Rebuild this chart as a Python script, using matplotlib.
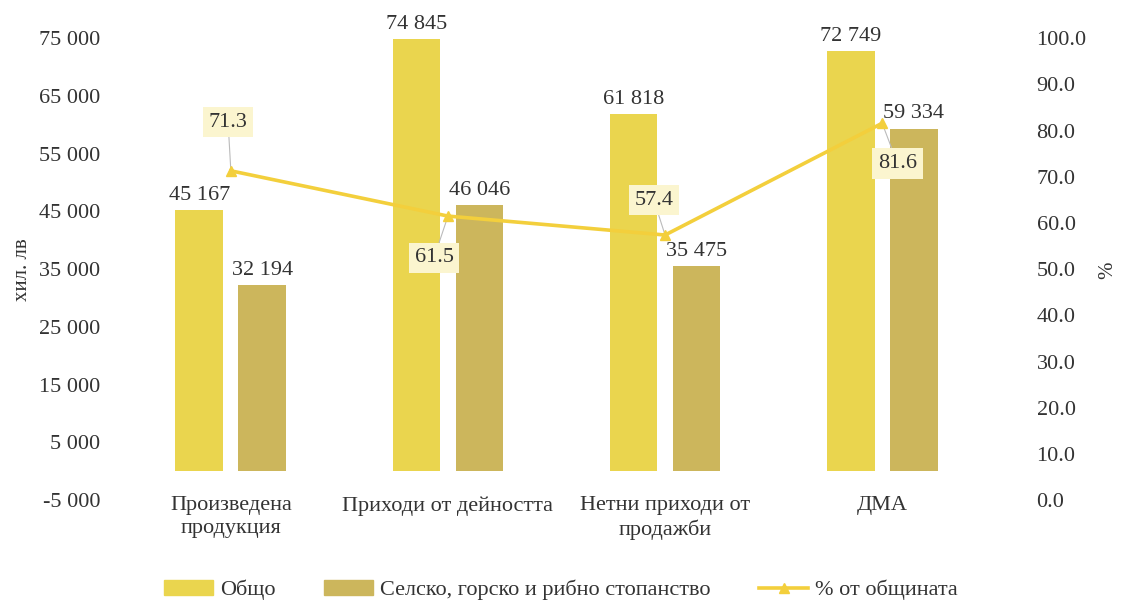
import numpy as np
import matplotlib.pyplot as plt
from matplotlib.lines import Line2D
from matplotlib.patches import Patch

plt.rcParams["font.family"] = ["Liberation Serif", "DejaVu Serif"]

categories = ['Произведена\nпродукция', 'Приходи от дейността', 'Нетни приходи от\nпродажби', 'ДМА']
total = [45167, 74845, 61818, 72749]
agri = [32194, 46046, 35475, 59334]
share = [71.3, 61.5, 57.4, 81.6]

c_total = '#EAD54E'
c_agri = '#CCB65C'
c_line = '#F3CF3C'
c_text = '#333333'

fig = plt.figure(figsize=(11.22, 6.07), dpi=100)
ax = fig.add_axes([0.109, 0.176, 0.774, 0.761])
ax2 = ax.twinx()

x = np.arange(len(categories))
w = 0.22
off = 0.145
b1 = ax.bar(x - off, total, w, color=c_total)
b2 = ax.bar(x + off, agri, w, color=c_agri)

def fmt(v):
    return f'{v:,}'.replace(',', ' ')

for bars, vals in [(b1, total), (b2, agri)]:
    for b, v in zip(bars, vals):
        ax.annotate(fmt(v), (b.get_x() + b.get_width() / 2, v), xytext=(0, 4),
                    textcoords='offset points', ha='center', va='bottom',
                    fontsize=16, color=c_text)

ax.set_ylim(-5000, 75000)
ax.set_yticks(np.arange(-5000, 75001, 10000))
ax.set_yticklabels([fmt(t) for t in range(-5000, 75001, 10000)])
ax.set_xlim(-0.5, 3.5)
ax.set_xticks(x)
ax.set_xticklabels(categories, linespacing=1.3)

ax2.plot(x, share, color=c_line, lw=2.6, marker='^', ms=7, zorder=5)
ax2.set_ylim(0, 100)
ax2.set_yticks(np.arange(0, 101, 10))
ax2.set_yticklabels([f'{t:.1f}' for t in range(0, 101, 10)])

# подписи на линията в кутийки
label_off = [(-2, 35), (-10, -30), (-8, 25), (11, -29)]
for xi, v, (dx, dy) in zip(x, share, label_off):
    ax2.annotate(f'{v:.1f}', (xi, v), xytext=(dx, dy), textcoords='offset points',
                 ha='center', va='center', fontsize=16, color=c_text,
                 bbox=dict(boxstyle='square,pad=0.25', fc='#FBF5CF', ec='none'),
                 arrowprops=dict(arrowstyle='-', color='#bbbbbb', lw=0.8, shrinkA=0, shrinkB=2))

for a in (ax, ax2):
    for s in a.spines.values():
        s.set_visible(False)
    a.tick_params(length=0, labelsize=16, colors=c_text)
ax.tick_params(axis='x', pad=-3)
ax.tick_params(axis='y', pad=16)
ax2.tick_params(axis='y', pad=33)

fig.text(0.02, 0.555, 'хил. лв', rotation=90, ha='center', va='center', fontsize=15, color=c_text)
fig.text(0.987, 0.555, '%', rotation=90, ha='center', va='center', fontsize=15, color=c_text)

handles = [Patch(color=c_total), Patch(color=c_agri),
           Line2D([0], [0], color=c_line, lw=2.6, marker='^', ms=7)]
fig.legend(handles, ['Общо', 'Селско, горско и рибно стопанство', '% от общината'],
           loc='lower center', bbox_to_anchor=(0.5, -0.022), ncol=3, frameon=False,
           fontsize=16, columnspacing=2.2, handlelength=2.2, handletextpad=0.3,
           labelcolor=c_text)

fig.savefig('out.png', dpi=100)
